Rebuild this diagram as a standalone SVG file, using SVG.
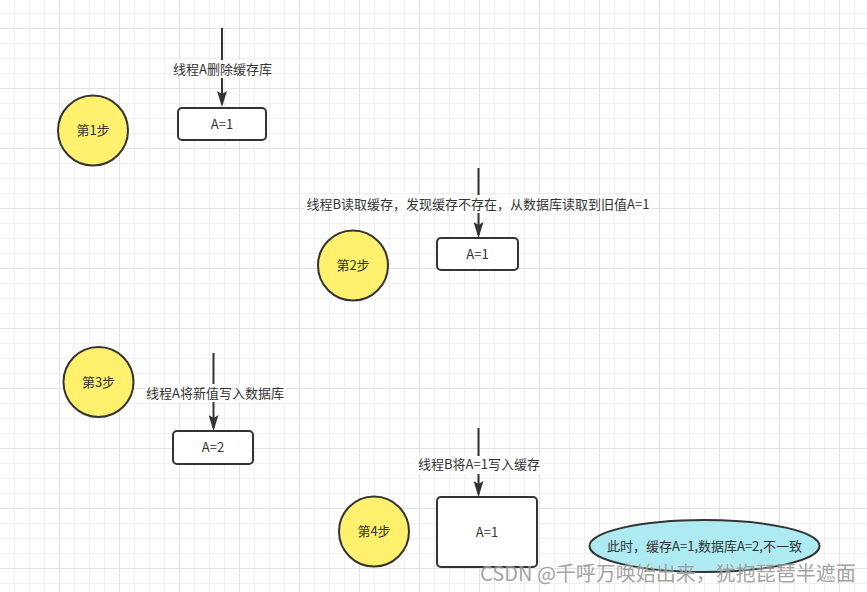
<svg xmlns="http://www.w3.org/2000/svg" width="867" height="592" viewBox="0 0 867 592">
<defs>
<pattern id="minor" patternUnits="userSpaceOnUse" x="14" y="13" width="15" height="15">
<path d="M0.5,0 V15 M0,0.5 H15" stroke="#efefef" stroke-width="1" fill="none"/>
</pattern>
<pattern id="major" patternUnits="userSpaceOnUse" x="59" y="28" width="60" height="60">
<path d="M0.5,0 V60 M0,0.5 H60" stroke="#e2e2e2" stroke-width="1" fill="none"/>
</pattern>
<marker id="arr" markerUnits="userSpaceOnUse" viewBox="0 0 16 10" refX="13" refY="5" markerWidth="16" markerHeight="10" orient="auto">
<path d="M0,0 L16,5 L0,10 L3,5 Z" fill="#333333"/>
</marker>
</defs>
<style>
text{font-family:"Noto Sans CJK SC","Liberation Sans",sans-serif;font-size:13px;fill:#333333;text-anchor:middle;}
.step{fill:#fff06e;stroke:#333333;stroke-width:2;}
.box{fill:#ffffff;stroke:#333333;stroke-width:2;}
.edge{stroke:#333333;stroke-width:2;fill:none;marker-end:url(#arr);}
.lbg{fill:#ffffff;}
</style>
<rect width="867" height="592" fill="#ffffff"/>
<rect width="867" height="592" fill="url(#minor)"/>
<rect width="867" height="592" fill="url(#major)"/>

<g id="connectors">
<path class="edge" d="M222,28 V104"/>
<rect class="lbg" x="172" y="60" width="101" height="18"/>
<text x="222.5" y="73.5">线程A删除缓存库</text>
<path class="edge" d="M478.5,168 V235"/>
<rect class="lbg" x="304" y="195" width="348" height="18"/>
<text x="478" y="208.5">线程B读取缓存，发现缓存不存在，从数据库读取到旧值A=1</text>
<path class="edge" d="M213.5,353 V428"/>
<rect class="lbg" x="145" y="384" width="140" height="18"/>
<text x="215" y="397.5">线程A将新值写入数据库</text>
<path class="edge" d="M478.5,428 V494"/>
<rect class="lbg" x="415" y="456" width="128" height="18"/>
<text x="479" y="469">线程B将A=1写入缓存</text>
</g>

<g id="step1">
<circle class="step" cx="93" cy="130.5" r="35"/>
<text x="93" y="135">第1步</text>
</g>
<g id="box1">
<rect class="box" x="178" y="108" width="88" height="32" rx="4"/>
<text x="222" y="128.5">A=1</text>
</g>

<g id="step2">
<circle class="step" cx="353" cy="265.5" r="35"/>
<text x="353" y="270">第2步</text>
</g>
<g id="box2">
<rect class="box" x="437" y="238" width="81" height="32" rx="4"/>
<text x="477.5" y="258.5">A=1</text>
</g>

<g id="step3">
<circle class="step" cx="98.5" cy="382" r="35"/>
<text x="98.5" y="386.5">第3步</text>
</g>
<g id="box3">
<rect class="box" x="173" y="431" width="80" height="33" rx="4"/>
<text x="213" y="452">A=2</text>
</g>

<g id="step4">
<circle class="step" cx="374" cy="531.5" r="35"/>
<text x="374" y="536">第4步</text>
</g>
<g id="box4">
<rect class="box" x="437" y="497" width="100" height="70" rx="4"/>
<text x="487" y="536.5">A=1</text>
</g>

<g id="note">
<ellipse cx="704.5" cy="546" rx="115" ry="26" fill="#aeeaf2" stroke="#333333" stroke-width="2"/>
<text x="704.5" y="550.5">此时，缓存A=1,数据库A=2,不一致</text>
</g>

<text x="668" y="581" style="font-size:20px;fill:#8a8a8a;fill-opacity:0.8;stroke:#ffffff;stroke-width:0.6;stroke-opacity:0.6;paint-order:stroke;">CSDN @千呼万唤始出来，犹抱琵琶半遮面</text>
</svg>
